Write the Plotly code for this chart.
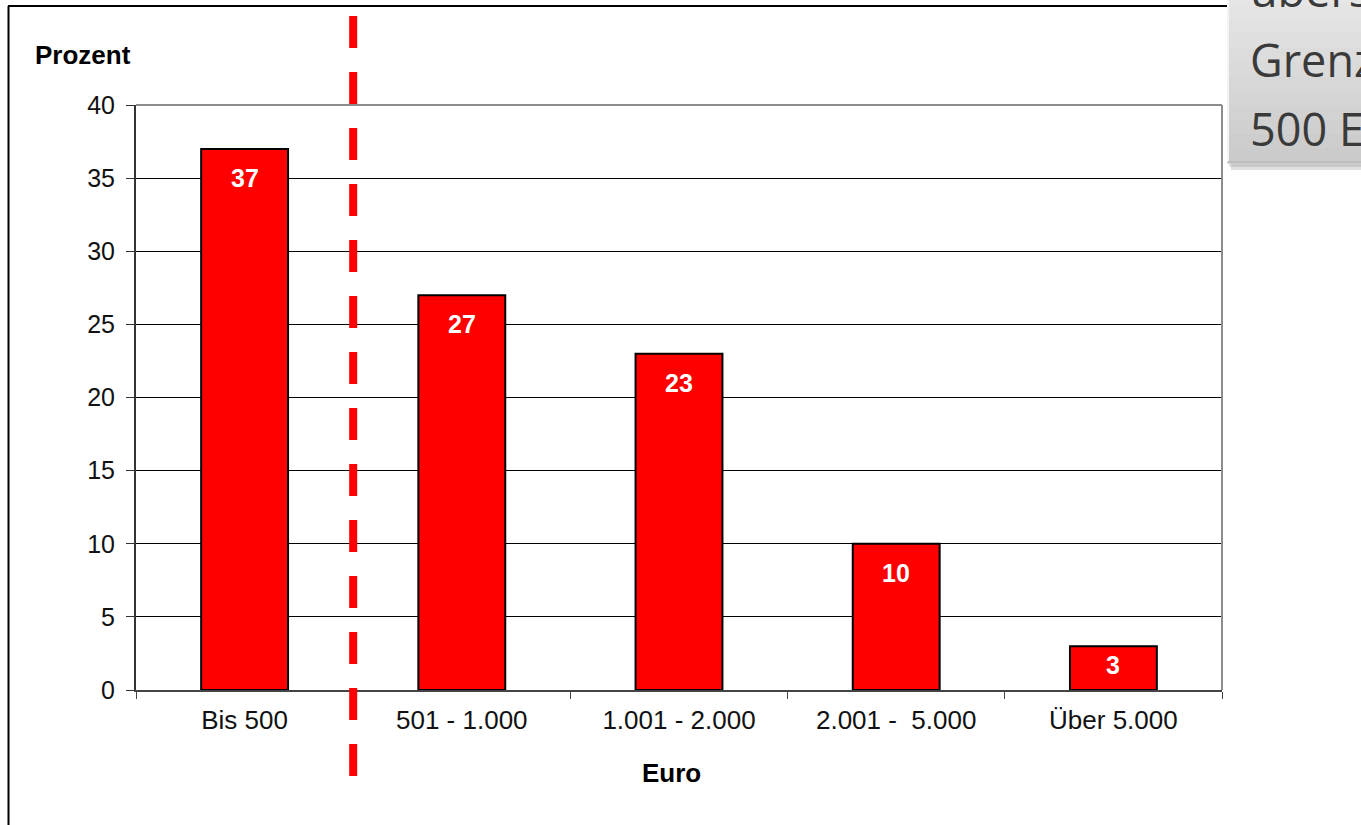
import plotly.graph_objects as go

# ---- data ----
categories = ["Bis 500", "501 - 1.000", "1.001 - 2.000", "2.001 -  5.000", "Über 5.000"]
values = [37, 27, 23, 10, 3]
y_ticks = [0, 5, 10, 15, 20, 25, 30, 35, 40]
callout_lines = ["überschreiten", "Grenze von", "500 Euro"]

W, H = 1361, 825
L, R, T, B = 136, 139, 105, 135
PW, PH = W - L - R, H - T - B


def px_x(p):
    return (p - L) / PW


def px_y(p):
    return (H - B - p) / PH


fig = go.Figure()
fig.add_trace(go.Bar(
    x=categories, y=values,
    marker=dict(color="#FF0000", line=dict(color="#000000", width=2)),
    hoverinfo="skip",
))

shapes = []
# outer frame (left + top)
shapes.append(dict(type="line", xref="paper", yref="paper", x0=px_x(8.5), x1=px_x(8.5),
                   y0=px_y(6), y1=px_y(840), line=dict(color="#000000", width=2), layer="above"))
shapes.append(dict(type="line", xref="paper", yref="paper", x0=px_x(8), x1=px_x(1230),
                   y0=px_y(6), y1=px_y(6), line=dict(color="#000000", width=2), layer="above"))
# plot area top / right border (grey)
shapes.append(dict(type="line", xref="paper", yref="paper", x0=0, x1=1, y0=1, y1=1,
                   line=dict(color="#8c8c8c", width=2), layer="above"))
shapes.append(dict(type="line", xref="paper", yref="paper", x0=1, x1=1, y0=0, y1=1,
                   line=dict(color="#8c8c8c", width=2), layer="above"))
# red dashed separator between first and second category
shapes.append(dict(type="line", xref="x", yref="paper", x0=0.5, x1=0.5,
                   y0=px_y(16), y1=px_y(790),
                   line=dict(color="#FF0000", width=8, dash="32px,24px"), layer="above"))

# callout box: shadow + gradient strips
shapes.append(dict(type="rect", xref="paper", yref="paper", x0=px_x(1231), x1=px_x(1400),
                   y0=px_y(-10), y1=px_y(170), fillcolor="rgba(0,0,0,0.12)", line=dict(width=0),
                   layer="above"))
shapes.append(dict(type="rect", xref="paper", yref="paper", x0=px_x(1229), x1=px_x(1400),
                   y0=px_y(-10), y1=px_y(167), fillcolor="rgba(0,0,0,0.10)", line=dict(width=0),
                   layer="above"))
n = 12
top, bot = -10, 163
c0, c1 = 0xE6, 0xCB
for i in range(n):
    a = top + (bot - top) * i / n
    b = top + (bot - top) * (i + 1) / n
    c = int(round(c0 + (c1 - c0) * i / (n - 1)))
    col = f"rgb({c},{c},{c})"
    shapes.append(dict(type="rect", xref="paper", yref="paper", x0=px_x(1227), x1=px_x(1400),
                       y0=px_y(a), y1=px_y(b + 0.5), fillcolor=col, line=dict(width=0),
                       layer="above"))
# bevel edges
shapes.append(dict(type="line", xref="paper", yref="paper", x0=px_x(1228), x1=px_x(1228),
                   y0=px_y(-10), y1=px_y(162), line=dict(color="#f4f4f4", width=2), layer="above"))
shapes.append(dict(type="line", xref="paper", yref="paper", x0=px_x(1228), x1=px_x(1400),
                   y0=px_y(162), y1=px_y(162), line=dict(color="#bdbdbd", width=2), layer="above"))

annotations = []
for c, v in zip(categories, values):
    shift = min(29, v * PH / 40 / 2 - 3)
    annotations.append(dict(x=c, y=v, xref="x", yref="y", text="<b>%d</b>" % v, showarrow=False,
                            yshift=-shift, xanchor="center", yanchor="middle",
                            font=dict(family="Liberation Sans, Arial", size=25, color="#FFFFFF")))
annotations.append(dict(x=px_x(83), y=px_y(55), xref="paper", yref="paper", text="<b>Prozent</b>",
                        showarrow=False, xanchor="center", yanchor="middle",
                        font=dict(family="Liberation Sans, Arial", size=26, color="#000000")))
annotations.append(dict(x=px_x(671), y=px_y(773), xref="paper", yref="paper", text="<b>Euro</b>",
                        showarrow=False, xanchor="center", yanchor="middle",
                        font=dict(family="Liberation Sans, Arial", size=26, color="#000000")))
for line, cy in zip(callout_lines, [-11, 59, 129]):
    annotations.append(dict(x=px_x(1248), y=px_y(cy), xref="paper", yref="paper", text=line,
                            showarrow=False, xanchor="left", yanchor="middle",
                            font=dict(family="Open Sans", size=45, color="#3a3a3a")))

fig.update_layout(
    width=W, height=H,
    margin=dict(l=L, r=R, t=T, b=B, pad=0),
    paper_bgcolor="#FFFFFF", plot_bgcolor="#FFFFFF",
    bargap=0.6, showlegend=False,
    shapes=shapes, annotations=annotations,
    font=dict(family="Liberation Sans, Arial", color="#000000"),
)
fig.update_xaxes(
    type="category", showgrid=False, showline=True, linecolor="#444444", linewidth=2,
    ticks="outside", tickson="boundaries", ticklen=7, tickcolor="#444444", tickwidth=1,
    tickfont=dict(size=26, color="#111111"), ticklabelstandoff=6, fixedrange=True,
)
fig.update_yaxes(
    range=[0, 40], tickvals=y_ticks, showgrid=True, gridcolor="#000000", gridwidth=1,
    showline=True, linecolor="#333333", linewidth=2, zeroline=False,
    ticks="outside", ticklen=8, tickcolor="#333333", tickwidth=1,
    tickfont=dict(size=25, color="#111111"), ticklabelstandoff=6, fixedrange=True,
)

fig.write_html("out.html", config={"displayModeBar": False})
